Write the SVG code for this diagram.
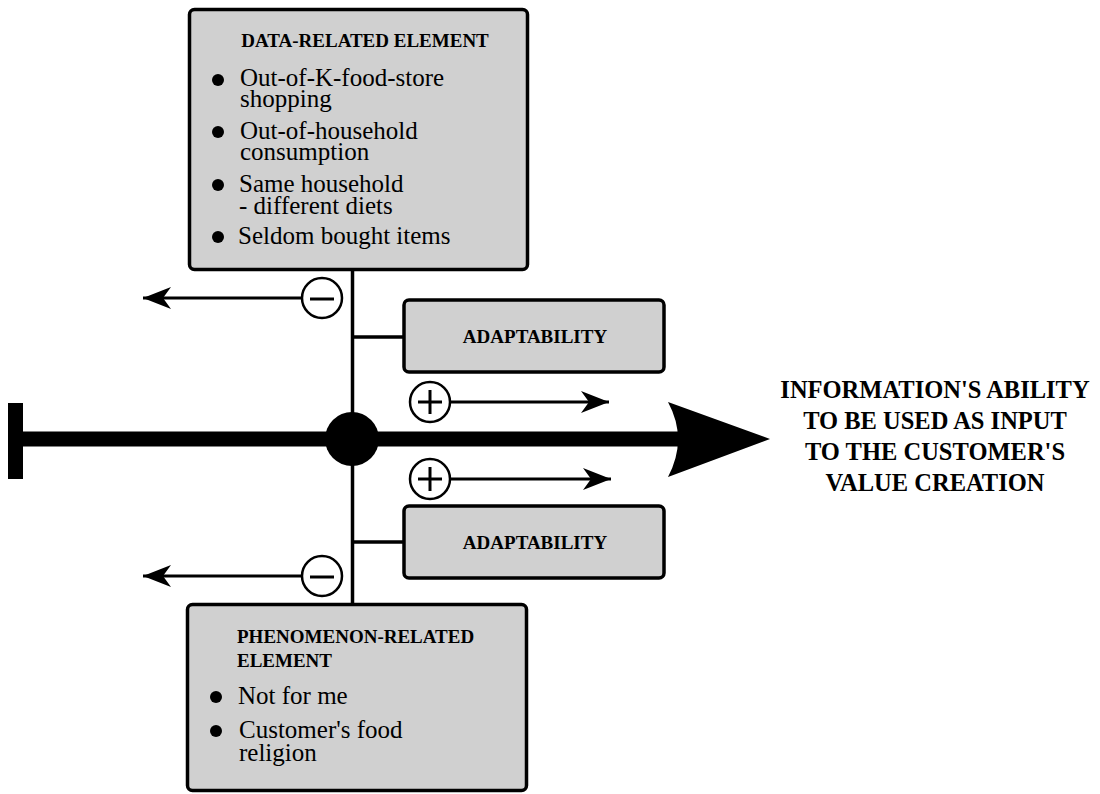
<svg xmlns="http://www.w3.org/2000/svg" width="1100" height="794" viewBox="0 0 1100 794">
<style>
.box{fill:#d0d0d0;stroke:#000;stroke-width:3.5}
.ln{stroke:#000;stroke-width:3.5;fill:none}
.thin{stroke:#000;stroke-width:3;fill:none}
.sign{fill:#fff;stroke:#000;stroke-width:2.5}
.t{font-family:"Liberation Serif","Times New Roman",serif;fill:#000}
.b{font-weight:bold;font-size:19px}
.r{font-size:25px}
.big{font-weight:bold;font-size:24.5px}
</style>
<defs>
<marker id="ah" markerUnits="userSpaceOnUse" markerWidth="30" markerHeight="24" refX="28" refY="11" orient="auto">
<path d="M0,0 L28,11 L0,22 L8,11 Z" fill="#000"/>
</marker>
</defs>
<rect width="1100" height="794" fill="#fff"/>
<g id="connectors">
<line class="ln" x1="352.5" y1="270" x2="352.5" y2="604"/>
<line class="ln" x1="352.5" y1="337" x2="404" y2="337"/>
<line class="ln" x1="352.5" y1="542" x2="404" y2="542"/>
<line class="thin" x1="302" y1="298" x2="143" y2="298" marker-end="url(#ah)"/>
<line class="thin" x1="302" y1="576" x2="143" y2="576" marker-end="url(#ah)"/>
<line class="thin" x1="451" y1="402" x2="609" y2="402" marker-end="url(#ah)"/>
<line class="thin" x1="451" y1="479" x2="611" y2="479" marker-end="url(#ah)"/>
</g>
<g id="main-axis">
<rect x="8" y="403" width="15" height="76" fill="#000"/>
<line x1="20" y1="439" x2="680" y2="439" stroke="#000" stroke-width="15"/>
<path d="M668,402 L770,439 L668,477 Q688,439 668,402 Z" fill="#000"/>
<circle cx="352" cy="439" r="27" fill="#000"/>
</g>
<g id="minus-top">
<circle class="sign" cx="322" cy="298" r="20"/>
<line class="thin" x1="310" y1="299" x2="334" y2="299"/>
</g>
<g id="minus-bottom">
<circle class="sign" cx="322" cy="576" r="20"/>
<line class="thin" x1="310" y1="577" x2="334" y2="577"/>
</g>
<g id="plus-top">
<circle class="sign" cx="430" cy="402" r="20"/>
<line class="thin" x1="418" y1="402" x2="442" y2="402"/>
<line class="thin" x1="430" y1="390" x2="430" y2="414"/>
</g>
<g id="plus-bottom">
<circle class="sign" cx="430" cy="479" r="20"/>
<line class="thin" x1="418" y1="479" x2="442" y2="479"/>
<line class="thin" x1="430" y1="467" x2="430" y2="491"/>
</g>
<g id="data-element">
<rect class="box" x="189.5" y="9.5" width="338" height="260" rx="5"/>
<text class="t b" x="365" y="47" text-anchor="middle">DATA-RELATED ELEMENT</text>
<circle cx="218" cy="80" r="6"/>
<circle cx="218" cy="132" r="6"/>
<circle cx="218" cy="185" r="6"/>
<circle cx="218" cy="237" r="6"/>
<text class="t r" x="240" y="86">Out-of-K-food-store<tspan x="240" dy="21">shopping</tspan></text>
<text class="t r" x="240" y="139">Out-of-household<tspan x="240" dy="21">consumption</tspan></text>
<text class="t r" x="239" y="192">Same household<tspan x="239" dy="22">- different diets</tspan></text>
<text class="t r" x="238" y="244">Seldom bought items</text>
</g>
<g id="adaptability-top">
<rect class="box" x="404" y="300" width="260" height="72" rx="5"/>
<text class="t b" x="535" y="343" text-anchor="middle">ADAPTABILITY</text>
</g>
<g id="adaptability-bottom">
<rect class="box" x="404" y="506" width="260" height="72" rx="5"/>
<text class="t b" x="535" y="549" text-anchor="middle">ADAPTABILITY</text>
</g>
<g id="phenomenon-element">
<rect class="box" x="187.5" y="604.5" width="339" height="186" rx="5"/>
<text class="t b" x="237" y="643">PHENOMENON-RELATED<tspan x="237" dy="24">ELEMENT</tspan></text>
<circle cx="216" cy="697" r="6"/>
<circle cx="216" cy="731" r="6"/>
<text class="t r" x="238" y="704">Not for me</text>
<text class="t r" x="239" y="738">Customer's food<tspan x="239" dy="23">religion</tspan></text>
</g>
<g id="outcome">
<text class="t big" text-anchor="middle" x="935" y="398">INFORMATION'S ABILITY<tspan x="935" dy="31">TO BE USED AS INPUT</tspan><tspan x="935" dy="31">TO THE CUSTOMER'S</tspan><tspan x="935" dy="31">VALUE CREATION</tspan></text>
</g>
</svg>
